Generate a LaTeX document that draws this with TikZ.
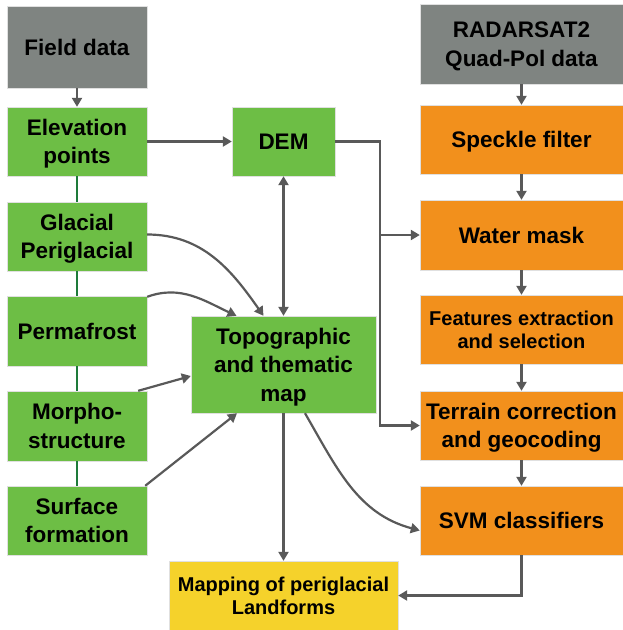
\documentclass[tikz,border=0pt]{standalone}
\usepackage{fontspec}
\setmainfont{Liberation Sans}
\usepackage{tikz}
\usetikzlibrary{arrows.meta,calc,positioning}
\definecolor{gris}{HTML}{7F8481}
\definecolor{verde}{HTML}{6DBE45}
\definecolor{naranja}{HTML}{F2901C}
\definecolor{amarillo}{HTML}{F5D22B}
\definecolor{flecha}{HTML}{595959}
\definecolor{enlace}{HTML}{1E7B3A}
\tikzset{
  caja/.style={rectangle,draw=black!12,line width=0.4pt,inner sep=0pt,align=center,text depth=0pt,
    font=\fontsize{22.5}{28.5}\selectfont\bfseries},
  chica/.style={font=\fontsize{20}{23.5}\selectfont\bfseries},
  datos/.style={caja,fill=gris},
  campo/.style={caja,fill=verde,minimum width=140pt,minimum height=69pt},
  radar/.style={caja,fill=naranja,minimum width=203pt,minimum height=69pt},
  flec/.style={-{Triangle[length=9pt,width=10pt]},flecha,line width=2.2pt},
  dobleflec/.style={{Triangle[length=9pt,width=10pt]}-{Triangle[length=9pt,width=10pt]},flecha,line width=2.2pt},
  union/.style={enlace,line width=2.2pt}
}
\begin{document}
\begin{tikzpicture}[x=1pt,y=1pt]
\useasboundingbox (0,0) rectangle (623,-630);
% left column
\node[datos,minimum width=140pt,minimum height=82pt] (field) at (77,-47) {Field data};
\node[campo] (elev) at (77,-141.5) {Elevation\\points};
\node[campo] (glac) at (77,-236.5) {Glacial\\Periglacial};
\node[campo,minimum height=70pt] (perma) at (77,-331) {Permafrost};
\node[campo,minimum height=70pt] (morpho) at (77,-426) {Morpho-\\structure};
\node[campo] (surf) at (77,-520.5) {Surface\\formation};
% middle
\node[caja,fill=verde,minimum width=103pt,minimum height=69pt] (dem) at (283.5,-141.5) {DEM};
\node[caja,fill=verde,minimum width=185pt,minimum height=97pt] (topo) at (283.5,-364.5) {Topographic\\and thematic\\map};
\node[caja,chica,fill=amarillo,minimum width=229pt,minimum height=69pt] (mapa) at (283.5,-595.5) {Mapping of periglacial\\Landforms};
% right column
\node[datos,minimum width=203pt,minimum height=80pt] (rsat) at (521.5,-44) {RADARSAT2\\Quad-Pol data};
\node[radar] (speck) at (521.5,-139.5) {Speckle filter};
\node[radar,minimum height=70pt] (water) at (521.5,-235) {Water mask};
\node[radar,chica] (feat) at (521.5,-329.5) {Features extraction\\and selection};
\node[radar] (terr) at (521.5,-425.5) {Terrain correction\\and geocoding};
\node[radar] (svm) at (521.5,-520.5) {SVM classifiers};

\draw[flec] (field) -- (elev);
\draw[union] (elev) -- (glac);
\draw[union] (glac) -- (perma);
\draw[union] (perma) -- (morpho);
\draw[union] (morpho) -- (surf);
\draw[flec] (elev) -- (dem);
\draw[dobleflec] (dem) -- (topo);
\coordinate (codo) at (380,-141.5);
\coordinate (rama) at (380,-235);
\draw[flec] (dem.east) -- (codo) |- (terr.west);
\draw[flec] (rama) -- (water.west);
\draw[flec] ([yshift=2pt]glac.east) to[out=0,in=125] ([xshift=-20pt]topo.north);
\draw[flec] ([yshift=-1pt]perma.north east) to[out=20,in=155] ([xshift=-47pt]topo.north);
\draw[flec] ([xshift=-9pt]morpho.north east) -- ([yshift=-11.5pt]topo.west);
\draw[flec] ([xshift=-2pt]surf.north east) -- ([xshift=-46.5pt]topo.south);
\draw[flec] (topo) -- (mapa);
\draw[flec] ([xshift=21.5pt]topo.south) to[out=-60,in=165] ([yshift=-10pt]svm.west);
\draw[flec] (svm.south) |- (mapa.east);
\draw[flec] (rsat) -- (speck);
\draw[flec] (speck) -- (water);
\draw[flec] (water) -- (feat);
\draw[flec] (feat) -- (terr);
\draw[flec] (terr) -- (svm);
\end{tikzpicture}
\end{document}
